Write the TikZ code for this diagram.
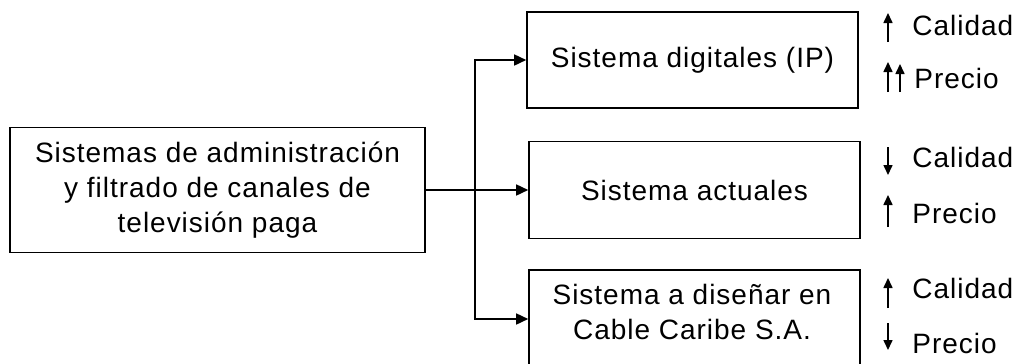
\documentclass[tikz,border=0pt]{standalone}
\usepackage{fontspec}
\setmainfont[LetterSpace=3.5]{Liberation Sans}
\usetikzlibrary{arrows.meta}

\begin{document}
\begin{tikzpicture}[x=0.5pt,y=-0.5pt,
  caja/.style={draw,line width=0.8pt,align=center,inner sep=0pt,
    font=\fontsize{14}{17.5}\selectfont},
  texto/.style={align=center,inner sep=0pt,font=\fontsize{14}{17.5}\selectfont},
  flecha/.style={line width=0.8pt,-{Triangle[length=6pt,width=5.5pt]}},
  marca/.style={line width=0.8pt,-{Triangle[length=5pt,width=4.5pt]}},
  nota/.style={anchor=base west,inner sep=0pt,font=\fontsize{14}{17.5}\selectfont}]

\useasboundingbox (0,0) rectangle (1019,364);
\clip (0,0) rectangle (1019,364);

% cajas
\node[caja,minimum width=207.5pt,minimum height=62.5pt] (gestion) at (217.5,190)
  {Sistemas de administración\\y filtrado de canales de\\televisión paga};
\node[caja,minimum width=165.5pt,minimum height=48pt] (digital) at (692.5,60)
  {Sistema digitales (IP)};
\node[caja,minimum width=165.5pt,minimum height=48.5pt] (actual) at (694.5,190)
  {Sistema actuales};
\node[caja,minimum width=165.5pt,minimum height=49pt] (caribe) at (694.5,319) {};
\node[texto] (caribetxt) at (692,312) {Sistema a diseñar en\\Cable Caribe S.A.};

% conectores
\draw[line width=0.8pt] (gestion.east) -- (475,190) coordinate (reparto);
\draw[flecha] (reparto) |- (digital.west);
\draw[flecha] (reparto) -- (actual.west);
\draw[flecha] (reparto) |- (caribe.west);

% calidad y precio
\node[nota] (cal1) at (912,35) {Calidad};
\node[nota] (pre1) at (914,88) {Precio};
\node[nota] (cal2) at (912,167) {Calidad};
\node[nota] (pre2) at (912,223) {Precio};
\node[nota] (cal3) at (912,298) {Calidad};
\node[nota] (pre3) at (912,353) {Precio};

\draw[marca] (888,42) -- (888,13);
\draw[marca] (888,92) -- (888,62);
\draw[marca] (900,92) -- (900,64);
\draw[marca] (888,147) -- (888,175);
\draw[marca] (888,227) -- (888,195);
\draw[marca] (888,308) -- (888,278);
\draw[marca] (888,323) -- (888,350);
\end{tikzpicture}
\end{document}
